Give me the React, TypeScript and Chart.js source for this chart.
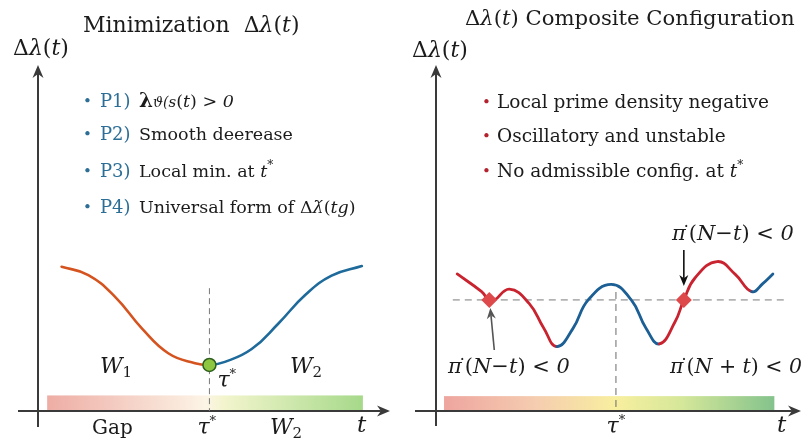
import { useEffect, useRef } from "react";
import { Chart, registerables } from "chart.js";
Chart.register(...registerables);

// ---------- data ----------
const leftT = [0.67, 1.43, 2.19, 2.95, 3.7, 4.46, 4.87, 5.31, 6.07, 6.83, 7.59, 8.34, 9.2];
const leftY = [4.17, 3.93, 3.3, 2.39, 1.67, 1.38, 1.33, 1.42, 1.79, 2.53, 3.35, 3.91, 4.19];
const leftMinIndex = 6;
const leftTauStar = 4.87;
const leftBullets = ["P1)", "P2)", "P3)", "P4)"];

const rightT = [0.58, 1.25, 1.52, 2.01, 2.55, 2.95, 3.31, 3.75, 4.17, 4.8, 5.35, 5.75, 6.12, 6.55, 6.79, 7.1, 7.7, 8.2, 8.65, 8.96, 9.23];
const rightY = [3.96, 3.45, 3.17, 3.52, 3.11, 2.4, 1.86, 2.38, 3.21, 3.66, 3.21, 2.4, 1.94, 2.58, 3.21, 3.85, 4.32, 3.95, 3.45, 3.69, 3.96];
const rightBlueRanges: [number, number][] = [[6, 12], [18, 20]];
const rightLevel = 3.21;
const rightCrossT = [1.46, 6.79];
const rightTauStar = 4.93;
const rightBullets = ["Local prime density negative", "Oscillatory and unstable", "No admissible config. at "];

// ---------- helpers ----------
const SERIF = '"DejaVu Serif", "Liberation Serif", serif';
type Run = { t: string; it?: boolean; b?: boolean; size?: number; color?: string; dy?: number; dx?: number };

function drawRuns(ctx: CanvasRenderingContext2D, x: number, y: number, runs: Run[], base: number, color = "#1b1b1b", align: "left" | "center" = "left") {
  const font = (r: Run) => `${r.it ? "italic " : ""}${r.b ? "bold " : ""}${r.size ?? base}px ${SERIF}`;
  let total = 0;
  for (const r of runs) { ctx.font = font(r); total += ctx.measureText(r.t).width + (r.dx ?? 0); }
  let cx = align === "center" ? x - total / 2 : x;
  ctx.textAlign = "left";
  ctx.textBaseline = "alphabetic";
  for (const r of runs) {
    ctx.font = font(r);
    ctx.fillStyle = r.color ?? color;
    cx += r.dx ?? 0;
    ctx.fillText(r.t, cx, y + (r.dy ?? 0));
    cx += ctx.measureText(r.t).width;
  }
  return cx;
}

function arrow(ctx: CanvasRenderingContext2D, x1: number, y1: number, x2: number, y2: number, color: string, w: number, head: number, hw: number) {
  const a = Math.atan2(y2 - y1, x2 - x1);
  ctx.save();
  ctx.strokeStyle = color; ctx.fillStyle = color; ctx.lineWidth = w;
  ctx.beginPath(); ctx.moveTo(x1, y1);
  ctx.lineTo(x2 - Math.cos(a) * head * 0.7, y2 - Math.sin(a) * head * 0.7); ctx.stroke();
  ctx.beginPath();
  ctx.moveTo(x2, y2);
  ctx.lineTo(x2 - Math.cos(a) * head + Math.sin(a) * hw, y2 - Math.sin(a) * head - Math.cos(a) * hw);
  ctx.lineTo(x2 - Math.cos(a) * head * 0.7, y2 - Math.sin(a) * head * 0.7);
  ctx.lineTo(x2 - Math.cos(a) * head - Math.sin(a) * hw, y2 - Math.sin(a) * head + Math.cos(a) * hw);
  ctx.closePath(); ctx.fill();
  ctx.restore();
}

const deltaLambda = (size?: number): Run[] => [
  { t: "Δ", size }, { t: "λ", it: true, size }, { t: "(", size }, { t: "t", it: true, size }, { t: ")", size },
];

function makeBackPlugin(barX0: number, barX1: number, barH: number, stops: [number, string][], xStartPx: number, yExtendPx: number) {
  return {
    id: "back",
    beforeDatasetsDraw(chart: any) {
      const { ctx, chartArea: ca, scales } = chart;
      const x0 = scales.x.getPixelForValue(barX0), x1 = scales.x.getPixelForValue(barX1);
      const y0 = scales.y.getPixelForValue(barH), yb = scales.y.getPixelForValue(0);
      const g = ctx.createLinearGradient(x0, 0, x1, 0);
      stops.forEach(([p, c]) => g.addColorStop(p, c));
      ctx.save();
      ctx.fillStyle = g;
      ctx.fillRect(x0, y0, x1 - x0, yb - y0);
      ctx.strokeStyle = "#3a3a3a"; ctx.lineWidth = 2;
      ctx.beginPath(); ctx.moveTo(ca.left, yb + yExtendPx); ctx.lineTo(ca.left, ca.top + 10); ctx.stroke();
      arrow(ctx, ca.left, ca.top + 14, ca.left, ca.top, "#3a3a3a", 2, 13, 5.5);
      ctx.beginPath(); ctx.moveTo(ca.left - xStartPx, yb); ctx.lineTo(ca.right - 10, yb); ctx.stroke();
      arrow(ctx, ca.right - 14, yb, ca.right, yb, "#3a3a3a", 2, 13, 5.5);
      ctx.restore();
    },
  };
}

const baseOptions = (pad: any): any => ({
  animation: false, responsive: false, events: [],
  layout: { padding: pad },
  plugins: { legend: { display: false }, tooltip: { enabled: false } },
  scales: { x: { type: "linear", min: 0, max: 10, display: false }, y: { min: 0, max: 10, display: false } },
  elements: { line: { fill: false }, point: { hitRadius: 0 } },
});

function leftConfig(): any {
  const pts = leftT.map((x, i) => ({ x, y: leftY[i] }));
  const textPlugin = {
    id: "txt",
    afterDraw(chart: any) {
      const { ctx, scales } = chart;
      const tx = scales.x.getPixelForValue(leftTauStar);
      drawRuns(ctx, 83, 32, [{ t: "Minimization  " }, ...deltaLambda()], 22);
      drawRuns(ctx, 13, 55, deltaLambda(), 22);
      const blue = "#2c6e96";
      const bodies: Run[][] = [
        [{ t: "λ", b: true, size: 20 }, { t: "ϑ(", it: true, size: 14 }, { t: "s", it: true, size: 15 }, { t: "(" }, { t: "t", it: true }, { t: ") > " }, { t: "0", it: true }],
        [{ t: "Smooth deerease" }],
        [{ t: "Local min. at " }, { t: "t", it: true }, { t: "*", size: 12, dy: -8 }],
        [{ t: "Universal form of " }, { t: "Δ" }, { t: "λ́", it: true }, { t: "(" }, { t: "tg", it: true }, { t: ")" }],
      ];
      const ys = [107, 140, 177, 213];
      leftBullets.forEach((lab, i) => {
        drawRuns(ctx, 83, ys[i] - 1, [{ t: "•", size: 15 }], 17, blue);
        drawRuns(ctx, 100, ys[i], [{ t: lab }], 18, blue);
        drawRuns(ctx, 139, ys[i], bodies[i], 17.5);
      });
      drawRuns(ctx, 100, 373, [{ t: "W", it: true }, { t: "1", size: 15, dy: 4 }], 22);
      drawRuns(ctx, 290, 373, [{ t: "W", it: true }, { t: "2", size: 15, dy: 4 }], 22);
      drawRuns(ctx, tx + 8, 387, [{ t: "τ", it: true }, { t: "*", size: 13, dy: -9 }], 22);
      drawRuns(ctx, 92, 434, [{ t: "Gap" }], 20);
      drawRuns(ctx, tx - 12, 434, [{ t: "τ", it: true }, { t: "*", size: 13, dy: -9 }], 22);
      drawRuns(ctx, 270, 434, [{ t: "W", it: true }, { t: "2", size: 15, dy: 4 }], 22);
      drawRuns(ctx, 357, 432, [{ t: "t", it: true }], 23);
    },
  };
  return {
    type: "line",
    data: {
      datasets: [
        { data: [{ x: leftTauStar, y: leftY[leftMinIndex] }], showLine: false, pointRadius: 6.5, pointBackgroundColor: "#8dc640", pointBorderColor: "#2e5e1e", pointBorderWidth: 1.5 },
        {
          data: pts, borderWidth: 2.6, pointRadius: 0, tension: 0.45, borderColor: "#d4531f", borderCapStyle: "round", borderJoinStyle: "round",
          segment: { borderColor: (c: any) => (c.p0DataIndex < leftMinIndex ? "#d4531f" : "#1d6a9b") },
        },
        { data: [{ x: leftTauStar, y: 3.55 }, { x: leftTauStar, y: 0 }], borderColor: "#7a7a7a", borderWidth: 1, borderDash: [6, 4], pointRadius: 0 },
      ],
    },
    options: baseOptions({ left: 38, right: 14, top: 65, bottom: 34 }),
    plugins: [makeBackPlugin(0.26, 9.23, 0.45, [[0, "#eeada5"], [0.5, "#fcf4e6"], [0.56, "#f3f5cd"], [1, "#a6d98a"]], 20, 16), textPlugin],
  };
}

function rightConfig(): any {
  const pts = rightT.map((x, i) => ({ x, y: rightY[i] }));
  const isBlue = (i: number) => rightBlueRanges.some(([a, b]) => i >= a && i < b);
  const textPlugin = {
    id: "txt",
    afterDraw(chart: any) {
      const { ctx, scales } = chart;
      const tx = scales.x.getPixelForValue(rightTauStar);
      drawRuns(ctx, 61, 25, [...deltaLambda(), { t: " Composite Configuration" }], 21.2);
      drawRuns(ctx, 8, 57, deltaLambda(), 22);
      const ys = [108, 142, 177];
      rightBullets.forEach((lab, i) => {
        drawRuns(ctx, 78, ys[i] - 1, [{ t: "•", size: 15 }], 17, "#b3222d");
        const runs: Run[] = [{ t: lab }];
        if (i === 2) runs.push({ t: "t", it: true }, { t: "*", size: 12, dy: -8 });
        drawRuns(ctx, 93, ys[i], runs, 18.5);
      });
      const piRuns = (sign: string): Run[] => [
        { t: "π", it: true }, { t: "˙", size: 18, dy: -1, dx: -4 }, { t: "(", dx: -2 }, { t: "N", it: true }, { t: sign }, { t: "t", it: true }, { t: ") < " }, { t: "0", it: true },
      ];
      drawRuns(ctx, 268, 240, piRuns("−"), 21);
      const cx2 = scales.x.getPixelForValue(rightCrossT[1]);
      const cx1 = scales.x.getPixelForValue(rightCrossT[0]);
      const ly = scales.y.getPixelForValue(rightLevel);
      arrow(ctx, cx2, 250, cx2, ly - 14, "#111", 1.6, 11, 4.5);
      drawRuns(ctx, 44, 373, piRuns("−"), 21);
      arrow(ctx, cx1 + 5, 350, cx1 + 1, ly + 8, "#555", 1.6, 11, 4.5);
      drawRuns(ctx, 266, 373, piRuns(" + "), 20.5);
      drawRuns(ctx, tx, 433, [{ t: "τ", it: true }, { t: "*", size: 13, dy: -9 }], 22, "#1b1b1b", "center");
      drawRuns(ctx, 373, 432, [{ t: "t", it: true }], 23);
    },
  };
  return {
    type: "line",
    data: {
      datasets: [
        { data: rightCrossT.map((x) => ({ x, y: rightLevel })), showLine: false, pointStyle: "rectRot", pointRadius: 8, pointBackgroundColor: "#de4a4c", pointBorderColor: "#de4a4c", pointBorderWidth: 0 },
        {
          data: pts, borderWidth: 2.8, pointRadius: 0, tension: 0.45, borderColor: "#c8232f", borderCapStyle: "round", borderJoinStyle: "round",
          segment: { borderColor: (c: any) => (isBlue(c.p0DataIndex) ? "#1b5f95" : "#c8232f") },
        },
        { data: [{ x: 0.46, y: rightLevel }, { x: 9.54, y: rightLevel }], borderColor: "#7a7a7a", borderWidth: 1, borderDash: [7, 5], pointRadius: 0 },
        { data: [{ x: rightTauStar, y: 3.44 }, { x: rightTauStar, y: 0 }], borderColor: "#6a6a6a", borderWidth: 1, borderDash: [7, 5], pointRadius: 0 },
      ],
    },
    options: baseOptions({ left: 32, right: 4, top: 65, bottom: 34 }),
    plugins: [makeBackPlugin(0.22, 9.27, 0.43, [[0, "#eea59f"], [0.28, "#f5cdb0"], [0.52, "#f8ef9f"], [0.72, "#d5e79a"], [1, "#84c38c"]], 21, 15), textPlugin],
  };
}

export default function App() {
  const leftRef = useRef<HTMLCanvasElement>(null);
  const rightRef = useRef<HTMLCanvasElement>(null);
  useEffect(() => {
    document.body.style.margin = "0";
    document.body.style.background = "#fff";
    const a = new Chart(leftRef.current!, leftConfig());
    const b = new Chart(rightRef.current!, rightConfig());
    return () => { a.destroy(); b.destroy(); };
  }, []);
  return (
    <div style={{ position: "absolute", left: 0, top: 0, width: 809, height: 445, background: "#fff" }}>
      <canvas ref={leftRef} width={404} height={445} style={{ position: "absolute", left: 0, top: 0, width: 404, height: 445 }} />
      <canvas ref={rightRef} width={405} height={445} style={{ position: "absolute", left: 404, top: 0, width: 405, height: 445 }} />
    </div>
  );
}
